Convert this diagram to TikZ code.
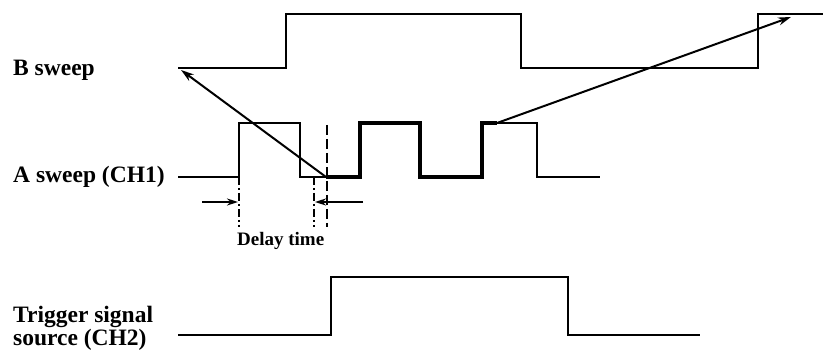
\documentclass[tikz,border=0pt]{standalone}
\usepackage{fontspec}
\setmainfont{Liberation Serif}
\usetikzlibrary{arrows.meta}
\begin{document}
\begin{tikzpicture}[x=1pt,y=-1pt,
  wave/.style={line width=1.9pt,line join=miter},
  thickwave/.style={line width=3.4pt,line join=miter},
  ptr/.style={line width=2pt,-{Stealth[length=13pt,width=8pt]}},
  lbl/.style={anchor=base west,inner sep=0pt,font=\fontsize{23.5}{27}\selectfont\bfseries},
  dlbl/.style={anchor=base west,inner sep=0pt,font=\fontsize{19}{22}\selectfont\bfseries},
  dashdot/.style={line width=1.6pt,dash pattern=on 8pt off 3pt on 2pt off 3pt},
  longdash/.style={line width=1.6pt,dash pattern=on 10pt off 4pt},
  delayarrow/.style={line width=1.8pt,-{Stealth[length=11pt,width=7pt]}}]
\useasboundingbox (0,0) rectangle (823,352);
% labels
\node[lbl] (lB) at (13,76) {B sweep};
\node[lbl] (lA) at (13,183) {A sweep (CH1)};
\node[lbl] (lT1) at (13,323) {Trigger signal};
\node[lbl] (lT2) at (13,346) {source (CH2)};
\node[dlbl] (ld) at (237,246) {Delay time};
% B sweep
\coordinate (bs) at (178,68);
\draw[wave] (bs) -- (286,68) -- (286,14) -- (521,14) -- (521,68) -- (758,68) -- (758,14) -- (823,14);
% A sweep
\coordinate (a1) at (326,177);
\coordinate (a2) at (497,123);
\draw[wave] (178,177) -- (239,177) -- (239,123) -- (300,123) -- (300,177) -- (a1);
\draw[thickwave] (a1) -- (360,177) -- (360,123) -- (420,123) -- (420,177) -- (482,177) -- (482,123) -- (a2);
\draw[wave] (a2) -- (537,123) -- (537,177) -- (600,177);
% trigger
\draw[wave] (178,335) -- (331,335) -- (331,277) -- (568,277) -- (568,335) -- (700,335);
% sweep arrows
\coordinate (tipB) at (181,70);
\coordinate (tipR) at (791,17);
\draw[ptr] (a1) -- (tipB);
\draw[ptr] (a2) -- (tipR);
% delay markers
\coordinate (d1t) at (239,177);
\coordinate (d1b) at (239,227);
\coordinate (d2t) at (314,177);
\coordinate (d2b) at (314,227);
\coordinate (d3t) at (327,125);
\coordinate (d3b) at (327,227);
\draw[dashdot] (d1t) -- (d1b);
\draw[dashdot] (d2t) -- (d2b);
\draw[longdash] (d3t) -- (d3b);
\coordinate (al) at (202,202);
\coordinate (alt) at (238,202);
\coordinate (ar) at (363,202);
\coordinate (art) at (315,202);
\draw[delayarrow] (al) -- (alt);
\draw[delayarrow] (ar) -- (art);
\end{tikzpicture}
\end{document}
